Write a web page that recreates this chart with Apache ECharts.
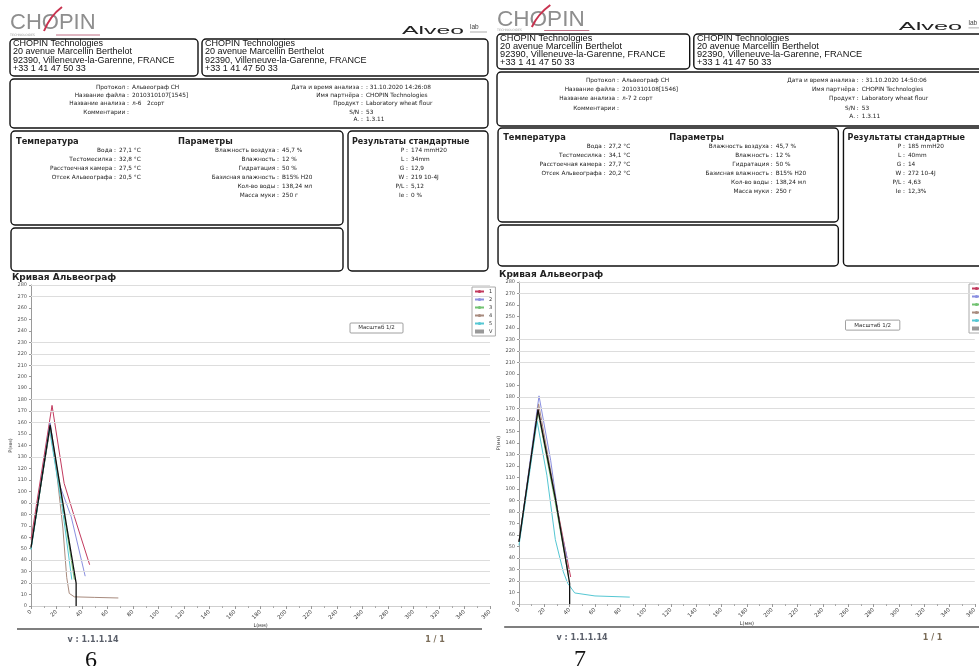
<!DOCTYPE html>
<html><head><meta charset="utf-8">
<script src="https://cdn.jsdelivr.net/npm/echarts@6/dist/echarts.min.js"></script>
<style>html,body{margin:0;padding:0;background:#fff}#c{width:979px;height:666px}</style>
</head><body><div id="c"></div>
<script>
// ================= DATA =================
const seriesNames  = ['1','2','3','4','5','V'];
const seriesColors = ['#c23a5e','#8a8fe0','#72c272','#a88b7e','#55c7d3','#111111'];
const xMax = 360, xStep = 20, yMax = 280, yStep = 10;
// horizontal grid lines visible in the reference (P values)
const gridLineValues = [20,30,40,80,90,130,160,170,180,210,220,230,270,280];

// Page 6 curves  [L (mm), P (mmH2O)]
const p6_1 = [[0,58],[16.5,175],[26,107],[34,78],[46,36]];
const p6_2 = [[0,50],[15,160],[22,107],[31.5,78],[42.5,26]];
const p6_3 = [[0,50],[15,157],[26,80],[34,23]];
const p6_4 = [[0,52],[15,155],[20,118],[25,68],[28,25],[30,11],[34,8],[50,7.5],[68.5,7]];
const p6_5 = [[0,49],[14.5,154],[25,82],[32,23]];
const p6_V = [[0,51],[15,158],[27.6,72],[35.4,20],[35.4,0]];

// Page 7 curves
const p7_1 = [[0,54],[15,170],[29,90],[40.8,23.5]];
const p7_2 = [[0,54],[15.8,181],[25,125],[32.4,67],[38.5,38]];
const p7_3 = [[0,54],[15,167],[28,92],[39,25]];
const p7_4 = [[0,54],[15.5,174],[26,110],[39,28]];
const p7_5 = [[0,51],[14.3,159],[22,112],[28.7,56],[35,28],[38.5,18],[44,9.6],[60,7],[87.5,6]];
const p7_V = [[0,54],[15,169],[28.7,92],[40,18],[40,0]];

// Texts
const companyLines = ['CHOPIN Technologies','20 avenue Marcellin Berthelot','92390, Villeneuve-la-Garenne, FRANCE','+33 1 41 47 50 33'];
const info6Left  = [['Протокол','Альвеограф CH'],['Название файла','2010310107[1545]'],['Название анализа','л-6   2сорт'],['Комментарии','']];
const info6Right = [['Дата и время анализа',': 31.10.2020 14:26:08'],['Имя партнёра','CHOPIN Technologies'],['Продукт','Laboratory wheat flour'],['S/N','53'],['A.','1.3.11']];
const info7Left  = [['Протокол','Альвеограф CH'],['Название файла','2010310108[1546]'],['Название анализа','л-7 2 сорт'],['Комментарии','']];
const info7Right = [['Дата и время анализа',': 31.10.2020 14:50:06'],['Имя партнёра','CHOPIN Technologies'],['Продукт','Laboratory wheat flour'],['S/N','53'],['A.','1.3.11']];
const temp6 = [['Вода','27,1 °C'],['Тестомесилка','32,8 °C'],['Расстоечная камера','27,5 °C'],['Отсек Альвеографа','20,5 °C']];
const temp7 = [['Вода','27,2 °C'],['Тестомесилка','34,1 °C'],['Расстоечная камера','27,7 °C'],['Отсек Альвеографа','20,2 °C']];
const params6 = [['Влажность воздуха','45,7 %'],['Влажность','12 %'],['Гидратация','50 %'],['Базисная влажность','B15% H20'],['Кол-во воды','138,24 мл'],['Масса муки','250 г']];
const params7 = params6;
const res6 = [['P','174 mmH20'],['L','34mm'],['G','12,9'],['W','219 10-4J'],['P/L','5,12'],['Ie','0 %']];
const res7 = [['P','185 mmH20'],['L','40mm'],['G','14'],['W','272 10-4J'],['P/L','4,63'],['Ie','12,3%']];
const titles = {temp:'Температура', params:'Параметры', res:'Результаты стандартные', curve:'Кривая Альвеограф'};
const footer = {version:'v : 1.1.1.14', pages:'1 / 1'};
const pageNumbers = ['6','7'];
const zoomButton = 'Масштаб 1/2';
const axisNames = {x:'L(мм)', y:'P(мм)'};

// ================= LAYOUT HELPERS =================
const id = v => v;
const X7 = x => 497 + (x - 10) * 1.025;
const Y7anchors = [[0,-2],[15,13],[39,34],[76,69],[79,72],[128,126],[131,128],[142,138],[228,225],[271,266],[278,275],[285,282],[606,604],[629,627],[700,700]];
function Y7(y){
  for (let i=1;i<Y7anchors.length;i++){
    const a=Y7anchors[i-1], b=Y7anchors[i];
    if (y<=b[0]) return a[1] + (y-a[0])*(b[1]-a[1])/(b[0]-a[0]);
  }
  return y;
}
const FF = '"DejaVu Sans"';
function T(x,y,text,o){
  o=o||{};
  return {type:'text', x:x, y:y, silent:true, scaleX:o.sx||1, z:10,
    style:{text:text, fill:o.fill||'#222',
      font:(o.w||'normal')+' '+(o.fs||5.8)+'px '+(o.ff||FF),
      align:o.a||'left', verticalAlign:o.va||'middle',
      textAlign:o.a||'left', textVerticalAlign:o.va||'middle'}};
}

function page(X, Y, d, s){
  const g=[];
  const box=(x0,y0,x1,y1)=>g.push({type:'rect', silent:true, z:5,
    shape:{x:X(x0), y:Y(y0), width:X(x1)-X(x0), height:Y(y1)-Y(y0), r:4},
    style:{fill:'none', stroke:'#111', lineWidth:1.4}});
  // logo CHOPIN
  g.push(T(X(10),Y(23),'CHOPIN',{fs:22*s, ff:'"Liberation Sans"', fill:'#8e8e8e'}));
  g.push({type:'bezierCurve', silent:true, z:11, shape:{x1:X(44),y1:Y(31),cpx1:X(50),cpy1:Y(16),x2:X(62),y2:Y(7)}, style:{stroke:'#c8334f', lineWidth:2, fill:'none'}});
  g.push({type:'line', silent:true, shape:{x1:X(56),y1:Y(35),x2:X(100),y2:Y(35)}, style:{stroke:'#b04a66', lineWidth:0.8}});
  g.push(T(X(10),Y(35),'TECHNOLOGIES',{fs:3.2, fill:'#999'}));
  // Alveo lab
  g.push(T(X(402),Y(31),'Alveo',{fs:11*s, ff:'"Liberation Sans"', fill:'#222', sx:2.25}));
  g.push(T(X(470),Y(27),'lab',{fs:6.5, ff:'"Liberation Sans"', fill:'#444'}));
  g.push({type:'line', silent:true, shape:{x1:X(470),y1:Y(32),x2:X(487),y2:Y(32)}, style:{stroke:'#888', lineWidth:0.7}});
  // boxes
  box(10,39,198,76); box(202,39,488,76); box(10,79,488,128);
  box(11,131,343,225); box(11,228,343,271); box(348,131,488,271);
  // company text
  const cy=[44,52,61,69];
  companyLines.forEach((t,i)=>{
    g.push(T(X(13),Y(cy[i]),t,{fs:9*s, ff:'"Liberation Sans"', fill:'#111'}));
    g.push(T(X(205),Y(cy[i]),t,{fs:9*s, ff:'"Liberation Sans"', fill:'#111'}));
  });
  const kv=(rows, colon, ys)=>rows.forEach((r,i)=>{
    g.push(T(X(colon)+1,Y(ys[i]),r[0]+' :',{a:'right'}));
    if (r[1]) g.push(T(X(colon)+4,Y(ys[i]),r[1]));
  });
  kv(d.infoL,128,[87,95,103,112]);
  kv(d.infoR,362,[87,95,103,112,119]);
  g.push(T(X(16),Y(142),titles.temp,{w:'bold', fs:8.3}));
  g.push(T(X(178),Y(142),titles.params,{w:'bold', fs:8.3}));
  g.push(T(X(352),Y(142),titles.res,{w:'bold', fs:8}));
  const ry=[150,159,168,177,186,195];
  kv(d.temp,115,ry); kv(d.params,278,ry); kv(d.res,407,ry);
  g.push(T(X(12),Y(278),titles.curve,{w:'bold', fs:9}));
  // zoom button
  g.push({type:'rect', silent:true, shape:{x:X(350),y:Y(323),width:53*s,height:10,r:1}, style:{fill:'#fff', stroke:'#888', lineWidth:0.8}, z:10});
  g.push(T(X(376.5),Y(328),zoomButton,{a:'center', fs:5.5, fill:'#333'}));
  // footer
  g.push({type:'line', silent:true, shape:{x1:X(17),y1:Y(629),x2:X(482),y2:Y(629)}, style:{stroke:'#555', lineWidth:1.5}});
  g.push(T(X(93),Y(640),footer.version,{a:'center', w:'bold', fs:8, fill:'#5a5f6a'}));
  g.push(T(X(435),Y(640),footer.pages,{a:'center', w:'bold', fs:8, fill:'#7a6c58'}));
  g.push(T(X(91),Y(649),d.num,{a:'center', va:'top', fs:24, ff:'"Liberation Serif"', fill:'#111'}));
  return g;
}

const graphics = page(id, id, {infoL:info6Left, infoR:info6Right, temp:temp6, params:params6, res:res6, num:pageNumbers[0]}, 1)
  .concat(page(X7, Y7, {infoL:info7Left, infoR:info7Right, temp:temp7, params:params7, res:res7, num:pageNumbers[1]}, 1.025));

// ================= CHART =================
function xAx(gi){
  return {type:'value', gridIndex:gi, min:0, max:xMax, interval:xStep,
    axisLine:{show:true, lineStyle:{color:'#cfcfcf', width:1}},
    axisTick:{show:true, length:3, lineStyle:{color:'#999'}},
    minorTick:{show:true, splitNumber:2, length:2, lineStyle:{color:'#aaa'}},
    axisLabel:{fontSize:5.5, rotate:45, color:'#333', margin:5, fontFamily:FF},
    splitLine:{show:false},
    name:axisNames.x, nameLocation:'middle', nameGap:17, nameTextStyle:{fontSize:5, color:'#333', fontFamily:FF}};
}
function yAx(gi){
  return {type:'value', gridIndex:gi, min:0, max:yMax, interval:yStep,
    axisLine:{show:true, lineStyle:{color:'#9a9a9a', width:1}},
    axisTick:{show:true, length:2, lineStyle:{color:'#999'}},
    axisLabel:{fontSize:5, color:'#555', margin:4, fontFamily:FF},
    splitLine:{show:false},
    name:axisNames.y, nameLocation:'middle', nameRotate:90, nameGap:17, nameTextStyle:{fontSize:5, color:'#333', fontFamily:FF}};
}
function buildSeries(curves, gi){
  return curves.map((d,i)=>{
    const s = {name:seriesNames[i], type:'line', xAxisIndex:gi, yAxisIndex:gi, data:d,
      symbol:'none', showSymbol:false, silent:true,
      lineStyle:{color:seriesColors[i], width: i===5?1.3:1},
      itemStyle:{color:seriesColors[i]}, z: i===5?5:3};
    if (i===0) s.markLine = {silent:true, symbol:['none','none'], label:{show:false}, animation:false,
      lineStyle:{color:'#dddddd', type:'solid', width:1},
      data: gridLineValues.map(v=>({yAxis:v}))};
    return s;
  });
}
function legend(left, top){
  return {left:left, top:top, orient:'vertical', itemWidth:9, itemHeight:4, itemGap:3,
    padding:[2,3,2,2], borderColor:'#aaa', borderWidth:1, backgroundColor:'#fff',
    textStyle:{fontSize:5, color:'#333', fontFamily:FF}, selectedMode:false,
    data: seriesNames.map((n,i)=> i===5 ? {name:n, icon:'rect', itemStyle:{color:'#999'}} : {name:n})};
}

const chart = echarts.init(document.getElementById('c'), null, {renderer:'canvas'});
chart.setOption({
  animation:false,
  backgroundColor:'#ffffff',
  grid:[{left:31, top:285, width:459, height:321}, {left:519, top:282, width:464, height:322}],
  xAxis:[xAx(0), xAx(1)],
  yAxis:[yAx(0), yAx(1)],
  legend:[legend(472,287), legend(969,284)],
  series: buildSeries([p6_1,p6_2,p6_3,p6_4,p6_5,p6_V],0).concat(buildSeries([p7_1,p7_2,p7_3,p7_4,p7_5,p7_V],1)),
  graphic:{elements:graphics}
});
</script></body></html>
